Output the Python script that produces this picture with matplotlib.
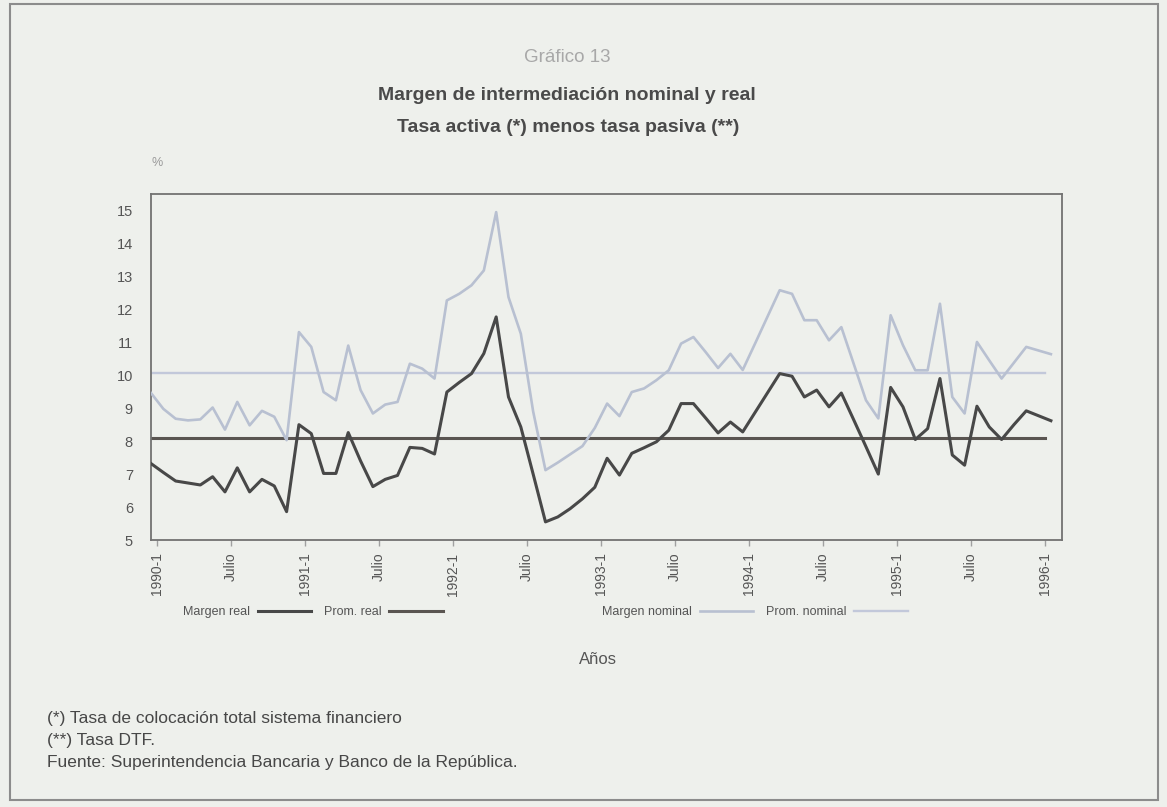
import numpy as np
import matplotlib.pyplot as plt
from matplotlib.patches import Rectangle

# Datos (mensual, 1990-1 a 1996-2)
margen_real = [
    7.32, 7.05, 6.79, 6.73, 6.67, 6.92, 6.46, 7.19, 6.46, 6.84, 6.64, 5.86,    # 1990
    8.50, 8.23, 7.02, 7.02, 8.26, 7.40, 6.62, 6.84, 6.96, 7.81, 7.78, 7.61,    # 1991
    9.49, 9.78, 10.05, 10.66, 11.77, 9.34, 8.43, 7.00, 5.55, 5.70, 5.95, 6.25, # 1992
    6.60, 7.48, 6.97, 7.63, 7.80, 7.98, 8.33, 9.14, 9.14, 8.70, 8.25, 8.58,    # 1993
    8.28, 8.87, 9.46, 10.05, 9.97, 9.34, 9.55, 9.04, 9.46, 8.65, 7.83, 7.00,   # 1994
    9.63, 9.04, 8.05, 8.38, 9.90, 7.58, 7.27, 9.06, 8.43, 8.05, 8.50, 8.92,    # 1995
    8.77, 8.62,                                                                # 1996
]
margen_nominal = [
    9.46, 8.98, 8.68, 8.63, 8.66, 9.02, 8.35, 9.19, 8.48, 8.92, 8.74, 8.03,
    11.31, 10.86, 9.49, 9.24, 10.90, 9.55, 8.84, 9.11, 9.19, 10.35, 10.20, 9.90,
    12.27, 12.47, 12.73, 13.18, 14.95, 12.37, 11.26, 8.90, 7.12, 7.35, 7.60, 7.85,
    8.40, 9.14, 8.76, 9.49, 9.60, 9.85, 10.15, 10.96, 11.16, 10.70, 10.22, 10.65,
    10.16, 10.96, 11.77, 12.58, 12.47, 11.67, 11.67, 11.06, 11.46, 10.35, 9.24, 8.69,
    11.82, 10.91, 10.15, 10.15, 12.17, 9.34, 8.84, 11.01, 10.45, 9.90, 10.38, 10.86,
    10.75, 10.64,
]
prom_real = 8.10
prom_nominal = 10.08
etiquetas_x = ['1990-1', 'Julio', '1991-1', 'Julio', '1992-1', 'Julio', '1993-1',
               'Julio', '1994-1', 'Julio', '1995-1', 'Julio', '1996-1']

meses = np.arange(len(margen_real))

plt.rcParams['font.family'] = ['Liberation Sans', 'DejaVu Sans']

fondo = '#eef0ec'
W, H = 1167, 807
fig = plt.figure(figsize=(W / 100, H / 100), dpi=100, facecolor=fondo)
ax = fig.add_axes([151 / W, 1 - 540 / H, (1062 - 151) / W, (540 - 194) / H])
ax.set_facecolor(fondo)

# Series
l_nom, = ax.plot(meses, margen_nominal, color='#b8c0d1', lw=1.9, zorder=3)
l_pnom, = ax.plot([meses[0], meses[-1] - 0.5], [prom_nominal] * 2, color='#c2c8da', lw=1.7, zorder=2)
l_real, = ax.plot(meses, margen_real, color='#484848', lw=2.2, zorder=4)
l_preal, = ax.plot([meses[0], meses[-1] - 0.5], [prom_real] * 2, color='#5a5551', lw=2.2, zorder=2)

ax.set_xlim(0, 73.9)
ax.set_ylim(5, 15.5)
ax.set_yticks(range(5, 16))
ax.set_xticks(np.arange(0, 73, 6) + 0.5, etiquetas_x, rotation=90)
ax.tick_params(axis='y', length=0, pad=13, labelsize=10.5, labelcolor='#555555')
ax.tick_params(axis='x', length=4, width=1, color='#a0a0a0', pad=5, labelsize=10, labelcolor='#555555')
for s in ax.spines.values():
    s.set_color('#727272')
    s.set_linewidth(1.3)

# Títulos
fig.text(567 / W, 1 - 57 / H, 'Gráfico 13', ha='center', va='center', fontsize=13.5, color='#a8a8a8')
fig.text(567 / W, 1 - 95 / H, 'Margen de intermediación nominal y real', ha='center', va='center',
         fontsize=14, fontweight='bold', color='#4a4a4a')
fig.text(568 / W, 1 - 127 / H, 'Tasa activa (*) menos tasa pasiva (**)', ha='center', va='center',
         fontsize=14, fontweight='bold', color='#4a4a4a')
fig.text(157 / W, 1 - 163 / H, '%', ha='center', va='center', fontsize=9, color='#9a9a9a')

# Leyendas (texto antes de la línea)
ley1 = fig.legend([l_real, l_preal], ['Margen real', 'Prom. real'], loc='center',
                  bbox_to_anchor=(313 / W, 1 - 612 / H), ncol=2, markerfirst=False, frameon=False,
                  handlelength=4.3, fontsize=9, columnspacing=1.0, handletextpad=0.6,
                  labelcolor='#555555')
ley2 = fig.legend([l_nom, l_pnom], ['Margen nominal', 'Prom. nominal'], loc='center',
                  bbox_to_anchor=(755 / W, 1 - 612 / H), ncol=2, markerfirst=False, frameon=False,
                  handlelength=4.3, fontsize=9, columnspacing=1.0, handletextpad=0.6,
                  labelcolor='#555555')

fig.text(598 / W, 1 - 659 / H, 'Años', ha='center', va='center', fontsize=12, color='#555555')

# Notas
notas = ['(*) Tasa de colocación total sistema financiero',
         '(**) Tasa DTF.',
         'Fuente: Superintendencia Bancaria y Banco de la República.']
for k, nota in enumerate(notas):
    fig.text(47 / W, 1 - (718 + 22 * k) / H, nota, ha='left', va='center', fontsize=12.5,
             color='#474747', family=['Liberation Sans Narrow', 'Liberation Sans'])

# Marco exterior
fig.add_artist(Rectangle((10 / W, 1 - 800 / H), (1158 - 10) / W, (800 - 4) / H,
                         transform=fig.transFigure, fill=False, ec='#8c8c8c', lw=1.5))

fig.savefig('out.png', dpi=100, facecolor=fondo)
